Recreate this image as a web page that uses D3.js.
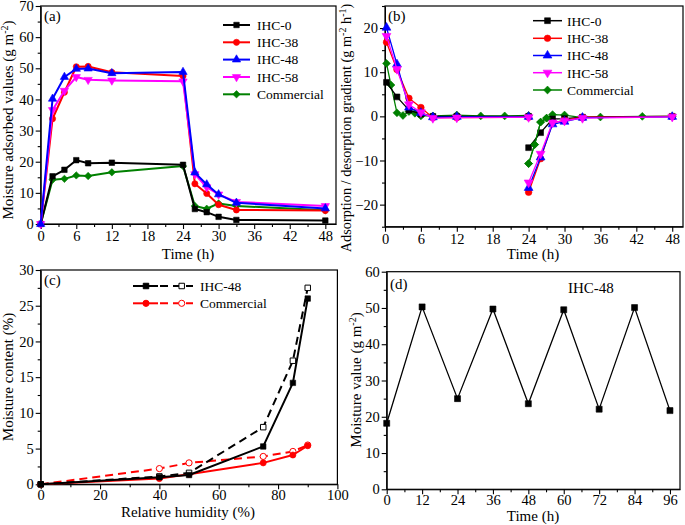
<!DOCTYPE html>
<html><head><meta charset="utf-8">
<script src="https://cdn.jsdelivr.net/npm/d3@7/dist/d3.min.js"></script>
<style>body{margin:0;background:#fff}svg{display:block}text{font-family:"Liberation Serif","Times New Roman",serif;fill:#000}</style>
</head><body><svg id="c" width="685" height="525"></svg>
<script>
// ---- Data ----
const seriesNames = ["IHC-0","IHC-38","IHC-48","IHC-58","Commercial"];
const seriesColors = ["#000000","#ff0000","#0000ff","#ff00ff","#008000"];
// (a) moisture adsorbed values
const timeA = [0,2,4,6,8,12,24,26,28,30,33,48];
const aIHC0 = [0,15.3,17.4,20.5,19.5,19.7,19.0,4.8,3.8,2.3,1.3,1.1];
const aIHC38 = [0,33.8,42.3,50.5,50.6,48.7,47.5,12.9,9.8,6.2,4.5,4.3];
const aIHC48 = [0,40.2,47.2,49.8,49.9,48.4,48.8,16.5,12.7,9.5,6.8,5.0];
const aIHC58 = [0,36.6,42.8,47.2,46.3,46.1,45.8,16.0,11.8,9.5,7.1,5.8];
const aCommercial = [0,14.2,14.5,15.6,15.4,16.6,18.6,5.8,4.9,6.6,5.8,4.4];
// (b) adsorption / desorption gradient
const timeBAds = [0.25,2,4,6,8,12,24];
const timeBDes = [24,26,28,30,33,48];
const bIHC0Ads = [7.7,4.4,1.4,0.5,0,0,0];
const bIHC38Ads = [16.8,10.6,4.1,2.0,-0.3,-0.3,-0.2];
const bIHC48Ads = [20.1,11.8,2.0,0.8,-0.2,-0.1,-0.1];
const bIHC58Ads = [18.2,10.7,2.7,0.9,-0.4,-0.3,-0.2];
const bIHC0Des = [-7.1,-3.7,-0.6,-0.5,-0.2,0];
const bIHC38Des = [-17.2,-9.6,-1.5,-0.9,-0.2,0];
const bIHC48Des = [-16.2,-9.3,-1.8,-1.2,-0.3,-0.1];
const bIHC58Des = [-15.0,-8.5,-1.4,-1.0,-0.4,-0.1];
const timeBComAds = [0.25,1,2,3,4,5,6,8,12,16,20,24];
const bComAds = [12.0,7.1,0.8,0.2,1.1,0.7,0.1,0.1,0.3,0.1,0.1,0.2];
const timeBComDes = [24,25,26,27,28,30,33,36,43,48];
const bComDes = [-10.7,-6.4,-1.3,-0.4,0.4,0.3,-0.3,-0.15,0,0];
// (c) moisture content vs relative humidity
const rhC = [0,40,50,75,85,90];
const cIHC48Solid = [0,1.0,1.3,5.3,14.2,26.0];
const cIHC48Dashed = [0,1.1,1.6,8.0,17.3,27.5];
const cComSolid = [0,0.8,1.4,3.0,4.1,5.4];
const cComDashed = [0,2.2,3.0,3.9,4.6,5.5];
// (d) cycling
const timeD = [0,12,24,36,48,60,72,84,96];
const dIHC48 = [18.2,50.3,25.0,49.7,23.6,49.5,22.1,50.1,21.7];

// ---- Helpers ----
const svg = d3.select("#c");
const FONT_TICK = 14.5, FONT_TITLE = 15;
function downTri(size){ const s=Math.sqrt(size*4/Math.sqrt(3)); const ht=s*Math.sqrt(3)/2; return `M${-s/2},${-ht/3}L${s/2},${-ht/3}L0,${2*ht/3}Z`; }
function symPath(kind,size){
  if(kind==="square") return d3.symbol(d3.symbolSquare,size)();
  if(kind==="circle") return d3.symbol(d3.symbolCircle,size)();
  if(kind==="up") return d3.symbol(d3.symbolTriangle,size)();
  if(kind==="down") return downTri(size);
  if(kind==="diamond"){ const s=Math.sqrt(size)/2*1.35; return `M0,${-s}L${s},0L0,${s}L${-s},0Z`; }
}
const kinds = ["square","circle","up","down","diamond"];

function makePanel(o){
  const g = svg.append("g");
  const x = d3.scaleLinear().domain(o.xd).range([o.L,o.R]);
  const y = d3.scaleLinear().domain(o.yd).range([o.B,o.T]);
  g.append("g").attr("transform",`translate(0,${o.B})`).call(d3.axisBottom(x).tickValues(o.xminor).tickSize(3).tickFormat("")).call(s=>s.select(".domain").remove());
  g.append("g").attr("transform",`translate(${o.L},0)`).call(d3.axisLeft(y).tickValues(o.yminor).tickSize(3).tickFormat("")).call(s=>s.select(".domain").remove());
  const xa = g.append("g").attr("transform",`translate(0,${o.B})`).call(d3.axisBottom(x).tickValues(o.xticks).tickSize(5).tickSizeOuter(0).tickPadding(o.xpad==null?2:o.xpad).tickFormat(d3.format("d")));
  const ya = g.append("g").attr("transform",`translate(${o.L},0)`).call(d3.axisLeft(y).tickValues(o.yticks).tickSize(5).tickSizeOuter(0).tickPadding(2).tickFormat(d3.format("d")));
  [xa,ya].forEach(a=>{a.attr("font-family",null).selectAll("text").style("font-size",FONT_TICK+"px").style("font-family",'"Liberation Serif",serif').attr("fill","#000");});
  g.selectAll(".tick line").attr("stroke","#000").attr("stroke-width",1.1);
  g.append("rect").attr("x",o.L).attr("y",o.T).attr("width",o.R-o.L).attr("height",o.B-o.T).attr("fill","none").attr("stroke","#000").attr("stroke-width",1.2);
  const clipId = "clip"+o.id;
  svg.append("clipPath").attr("id",clipId).append("rect").attr("x",o.L-6).attr("y",o.T).attr("width",o.R-o.L+6).attr("height",o.B-o.T+6);
  const plot = g.append("g").attr("clip-path",`url(#${clipId})`);
  return {g,x,y,plot};
}
function drawSeries(p,xs,ys,color,kind,opt={}){
  const data = xs.map((d,i)=>[d,ys[i]]);
  const line = d3.line().x(d=>p.x(d[0])).y(d=>p.y(d[1]));
  p.plot.append("path").datum(data).attr("d",line).attr("fill","none").attr("stroke",color)
    .attr("stroke-width",opt.lw||1.6).attr("stroke-dasharray",opt.dash||null).attr("stroke-linejoin","round");
  p.plot.selectAll(null).data(data).enter().append("path")
    .attr("transform",d=>`translate(${p.x(d[0])},${p.y(d[1])})`)
    .attr("d",symPath(kind,opt.size||34))
    .attr("fill",opt.open?"#fff":color).attr("stroke",color).attr("stroke-width",opt.open?1:0.6);
}
function yTitle(x,cy,parts,size){
  const t = svg.append("text").attr("transform",`translate(${x},${cy}) rotate(-90)`).attr("text-anchor","middle").style("font-size",(size||FONT_TITLE)+"px");
  parts.forEach(p=>{ const s=t.append("tspan").text(p.t); if(p.sup){ s.attr("baseline-shift","super").style("font-size","10px"); } });
}
function xTitle(cx,y,txt){ svg.append("text").attr("x",cx).attr("y",y).attr("text-anchor","middle").style("font-size",FONT_TITLE+"px").text(txt); }
function label(x,y,txt,size){ svg.append("text").attr("x",x).attr("y",y).style("font-size",(size||15)+"px").text(txt); }
function legend(x0,x1,tx,rows,lw,sizes){
  rows.forEach((r,i)=>{
    svg.append("line").attr("x1",x0).attr("x2",x1).attr("y1",r.y).attr("y2",r.y).attr("stroke",seriesColors[i]).attr("stroke-width",lw);
    svg.append("path").attr("transform",`translate(${(x0+x1)/2},${r.y})`).attr("d",symPath(kinds[i],sizes)).attr("fill",seriesColors[i]).attr("stroke",seriesColors[i]).attr("stroke-width",0.6);
    svg.append("text").attr("x",tx).attr("y",r.y+4.8).style("font-size","13.5px").text(seriesNames[i]);
  });
}

// ---- Panel (a) ----
const pa = makePanel({id:"a",L:40.7,R:336,T:6,B:224,xd:[0,49.8],yd:[0,70],
  xticks:d3.range(0,49,6),xminor:d3.range(3,49,6),yticks:d3.range(0,71,10),yminor:d3.range(5,70,10)});
const aSeries=[aIHC0,aIHC38,aIHC48,aIHC58,aCommercial];
[4,0,1,3,2].forEach(i=>drawSeries(pa,timeA,aSeries[i],seriesColors[i],kinds[i],{lw:2,size:30}));
label(44,21,"(a)");
legend(223,250,257,[25,42.3,59.6,77,94.3].map(y=>({y})),2,30);
yTitle(13,120,[{t:"Moisture adsorbed values (g m"},{t:"-2",sup:true},{t:")"}]);
xTitle(188,259,"Time (h)");

// ---- Panel (b) ----
const pb = makePanel({id:"b",L:385,R:683,T:6,B:226.7,xd:[0,49.8],yd:[-25,25],
  xticks:d3.range(0,49,6),xminor:d3.range(3,49,6),yticks:[-20,-10,0,10,20],yminor:[-25,-15,-5,5,15,25]});
const bAds=[bIHC0Ads,bIHC38Ads,bIHC48Ads,bIHC58Ads], bDes=[bIHC0Des,bIHC38Des,bIHC48Des,bIHC58Des];
drawSeries(pb,timeBComAds,bComAds,seriesColors[4],kinds[4],{lw:1.3,size:34});
drawSeries(pb,timeBComDes,bComDes,seriesColors[4],kinds[4],{lw:1.3,size:34});
[0,1,2,3].forEach(i=>{
  drawSeries(pb,timeBAds,bAds[i],seriesColors[i],kinds[i],{lw:1.3,size:34});
  drawSeries(pb,timeBDes,bDes[i],seriesColors[i],kinds[i],{lw:1.3,size:34});
});
drawSeries(pb,timeBComDes.slice(0,4),bComDes.slice(0,4),seriesColors[4],kinds[4],{lw:1.3,size:34});
label(388,21,"(b)");
legend(533,562,567,[20.7,38.3,55.5,72.7,90].map(y=>({y})),1.5,34);
yTitle(351,128,[{t:"Adsorption / desorption gradient (g m"},{t:"-2",sup:true},{t:" h"},{t:"-1",sup:true},{t:")"}],14.3);
xTitle(533,259,"Time (h)");

// ---- Panel (c) ----
const pc = makePanel({id:"c",L:40.7,R:337.4,T:270,B:484.3,xd:[0,100],yd:[0,30],xpad:0,
  xticks:d3.range(0,101,20),xminor:d3.range(10,100,20),yticks:d3.range(0,31,5),yminor:d3.range(2.5,30,5)});
drawSeries(pc,rhC,cComDashed,"#ff0000","circle",{lw:2,dash:"8,5",open:true,size:30});
drawSeries(pc,rhC,cComSolid,"#ff0000","circle",{lw:2,size:30});
drawSeries(pc,rhC,cIHC48Dashed,"#000000","square",{lw:2,dash:"8,5",open:true,size:30});
drawSeries(pc,rhC,cIHC48Solid,"#000000","square",{lw:2,size:30});
label(44,285,"(c)");
[[286,"#000","square","IHC-48"],[303.3,"#ff0000","circle","Commercial"]].forEach(r=>{
  svg.append("line").attr("x1",133).attr("x2",158).attr("y1",r[0]).attr("y2",r[0]).attr("stroke",r[1]).attr("stroke-width",2);
  svg.append("line").attr("x1",160).attr("x2",193).attr("y1",r[0]).attr("y2",r[0]).attr("stroke",r[1]).attr("stroke-width",2).attr("stroke-dasharray","8,5");
  svg.append("path").attr("transform",`translate(146,${r[0]})`).attr("d",symPath(r[2],30)).attr("fill",r[1]).attr("stroke",r[1]);
  svg.append("path").attr("transform",`translate(181.7,${r[0]})`).attr("d",symPath(r[2],30)).attr("fill","#fff").attr("stroke",r[1]);
  svg.append("text").attr("x",200).attr("y",r[0]+4.8).style("font-size","13.5px").text(r[3]);
});
yTitle(13,377,[{t:"Moisture content (%)"}]);
xTitle(188,517,"Relative humidity (%)");

// ---- Panel (d) ----
const pd = makePanel({id:"d",L:386.7,R:680,T:271.7,B:489.3,xd:[0,99.4],yd:[0,60],xpad:0,
  xticks:d3.range(0,97,12),xminor:d3.range(6,97,12),yticks:d3.range(0,61,10),yminor:d3.range(5,60,10)});
drawSeries(pd,timeD,dIHC48,"#000","square",{lw:1.3,size:36});
label(390,289,"(d)");
svg.append("text").attr("x",568).attr("y",293).style("font-size","15px").text("IHC-48");
yTitle(361,380,[{t:"Moisture value (g m"},{t:"-2",sup:true},{t:")"}]);
xTitle(533,521,"Time (h)");
</script></body></html>
